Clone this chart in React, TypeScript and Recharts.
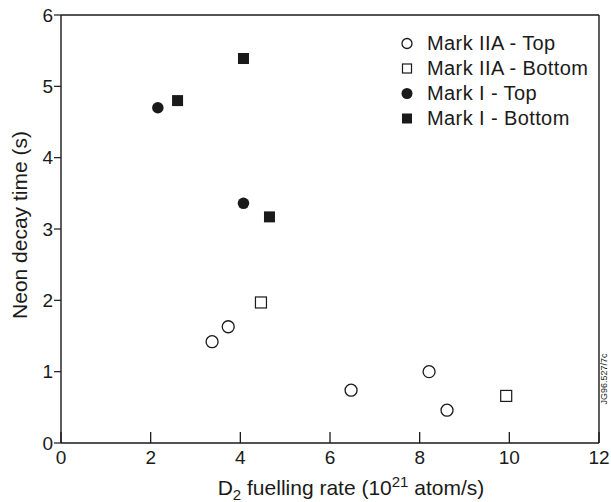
import React from 'react';
import { ScatterChart, Scatter, XAxis, YAxis, ReferenceLine, Legend } from 'recharts';

const FONT = '"Liberation Sans", Arial, Helvetica, sans-serif';
const INK = '#1a1a1a';

const xTicks = [0, 2, 4, 6, 8, 10, 12];
const yTicks = [0, 1, 2, 3, 4, 5, 6];

// values (D2 rate in 1e21 atom/s, decay time in s)
const markIIATop = [
  { x: 3.37, y: 1.42 },
  { x: 3.73, y: 1.63 },
  { x: 6.47, y: 0.74 },
  { x: 8.21, y: 1.0 },
  { x: 8.61, y: 0.46 },
];
const markIIABottom = [
  { x: 4.46, y: 1.97 },
  { x: 9.93, y: 0.66 },
];
const markITop = [
  { x: 2.16, y: 4.7 },
  { x: 4.07, y: 3.36 },
];
const markIBottom = [
  { x: 2.6, y: 4.8 },
  { x: 4.07, y: 5.39 },
  { x: 4.65, y: 3.17 },
];

type Kind = 'openCircle' | 'openSquare' | 'dotCircle' | 'dotSquare';

const series: { name: string; data: { x: number; y: number }[]; kind: Kind }[] = [
  { name: 'Mark IIA - Top', data: markIIATop, kind: 'openCircle' },
  { name: 'Mark IIA - Bottom', data: markIIABottom, kind: 'openSquare' },
  { name: 'Mark I - Top', data: markITop, kind: 'dotCircle' },
  { name: 'Mark I - Bottom', data: markIBottom, kind: 'dotSquare' },
];

const Marker = ({ kind, cx, cy, s }: { kind: Kind; cx: number; cy: number; s: number }) => {
  if (kind === 'openCircle')
    return <circle cx={cx} cy={cy} r={s / 2} fill="#fff" stroke={INK} strokeWidth={1.3} />;
  if (kind === 'openSquare')
    return <rect x={cx - s / 2} y={cy - s / 2} width={s} height={s} fill="#fff" stroke={INK} strokeWidth={1.2} />;
  if (kind === 'dotCircle') return <circle cx={cx} cy={cy} r={s / 2} fill={INK} />;
  return <rect x={cx - s / 2} y={cy - s / 2} width={s} height={s} fill={INK} />;
};

const plotSize: Record<Kind, number> = { openCircle: 12, openSquare: 11, dotCircle: 11.5, dotSquare: 11 };
const keySize: Record<Kind, number> = { openCircle: 10, openSquare: 9, dotCircle: 11, dotSquare: 10 };

// x ticks point inward (up) in the original
const XTick = ({ x, y, payload }: any) => (
  <g>
    <line x1={x} y1={y} x2={x} y2={y - 11} stroke={INK} strokeWidth={1.3} />
    <text x={x} y={y + 21} textAnchor="middle" fontSize={19} fontFamily={FONT} fill={INK}>
      {payload.value}
    </text>
  </g>
);

const XLabel = ({ viewBox }: any) => {
  const cx = viewBox.x + viewBox.width / 2 + 21;
  return (
    <text x={cx} y={viewBox.y + 52} textAnchor="middle" fontSize={21} fontFamily={FONT} fill={INK}>
      D<tspan dy={5} fontSize={15}>2</tspan>
      <tspan dy={-5}> fuelling rate (10</tspan>
      <tspan dy={-8} fontSize={15}>21</tspan>
      <tspan dy={8}> atom/s)</tspan>
    </text>
  );
};

const YLabel = () => (
  <text x={27} y={225} transform="rotate(-90, 27, 225)" textAnchor="middle" fontSize={21} fontFamily={FONT} fill={INK}>
    Neon decay time (s)
  </text>
);

const KeyBox = () => (
  <div style={{ fontFamily: FONT, fontSize: 20, letterSpacing: 0.4, color: INK }}>
    {series.map((s) => (
      <div key={s.name} style={{ display: 'flex', alignItems: 'center', height: 25 }}>
        <svg width={18} height={25}>
          <Marker kind={s.kind} cx={9} cy={12.5} s={keySize[s.kind]} />
        </svg>
        <span style={{ marginLeft: 11, whiteSpace: 'nowrap' }}>{s.name}</span>
      </div>
    ))}
  </div>
);

export default function App() {
  return (
    <div style={{ position: 'absolute', left: 0, top: 0, width: 611, height: 502, background: '#fff', overflow: 'hidden' }}>
      <ScatterChart width={611} height={502} margin={{ top: 15, right: 12, bottom: 0, left: 11 }}>
        <XAxis
          type="number"
          dataKey="x"
          domain={[0, 12]}
          ticks={xTicks}
          interval={0}
          height={59}
          tickSize={0}
          tickMargin={0}
          tickLine={false}
          axisLine={{ stroke: INK, strokeWidth: 1.4 }}
          tick={<XTick />}
          label={<XLabel />}
        />
        <YAxis
          type="number"
          dataKey="y"
          domain={[0, 6]}
          ticks={yTicks}
          interval={0}
          width={50}
          tickSize={7}
          tickMargin={1}
          tickLine={{ stroke: INK, strokeWidth: 1.2 }}
          axisLine={{ stroke: INK, strokeWidth: 1.4 }}
          tick={{ fontSize: 19, fontFamily: FONT, fill: INK }}
          label={<YLabel />}
        />
        <ReferenceLine y={6} stroke={INK} strokeWidth={1.4} />
        <ReferenceLine x={12} stroke={INK} strokeWidth={1.4} />
        {series.map((s) => (
          <Scatter
            key={s.name}
            name={s.name}
            data={s.data}
            isAnimationActive={false}
            shape={(p: any) => <Marker kind={s.kind} cx={p.cx} cy={p.cy} s={plotSize[s.kind]} />}
          />
        ))}
        <Legend
          layout="horizontal"
          verticalAlign="middle"
          align="center"
          content={<KeyBox />}
          wrapperStyle={{ left: 398, top: 31, width: 210 }}
        />
      </ScatterChart>
      <div
        style={{
          position: 'absolute',
          left: 604,
          top: 379,
          transform: 'translate(-50%, -50%) rotate(-90deg)',
          fontFamily: FONT,
          fontSize: 9,
          lineHeight: '10px',
          color: INK,
          whiteSpace: 'nowrap',
        }}
      >
        JG96.527/7c
      </div>
    </div>
  );
}
